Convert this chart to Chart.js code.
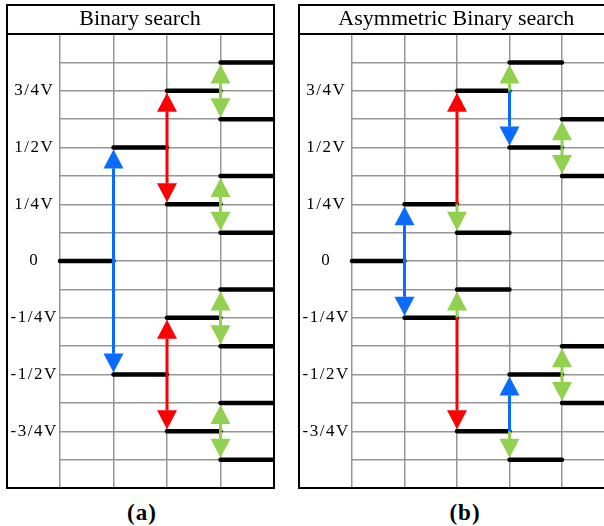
<!DOCTYPE html>
<html>
<head>
<meta charset="utf-8">
<script src="https://cdn.jsdelivr.net/npm/chart.js@4/dist/chart.umd.min.js"></script>
<style>
  html, body { margin: 0; padding: 0; background: #fff; overflow: hidden; width: 604px; height: 526px; }
  canvas { position: absolute; }
  #chartA { left: 6px; top: 4px; }
  #chartB { left: 298px; top: 4px; }
  .caption {
    position: absolute; top: 499px; width: 80px; text-align: center; letter-spacing: 1px;
    font: bold 23px "Liberation Serif", "Times New Roman", serif; color: #000; line-height: 28px;
  }
</style>
</head>
<body>
<canvas id="chartA" width="269" height="485"></canvas>
<canvas id="chartB" width="318" height="485"></canvas>
<div class="caption" style="left:102px">(a)</div>
<div class="caption" style="left:425px">(b)</div>
<script>
// Reference voltage labels on the vertical axis
const tickValues = [0.75, 0.5, 0.25, 0, -0.25, -0.5, -0.75];
const tickLabels = ['3/4V', '1/2V', '1/4V', '0', '-1/4V', '-1/2V', '-3/4V'];

const BLUE = '#0a6cff';
const RED = '#ff0000';
const GREEN = '#92d050';

// (a) plain binary search: DAC levels held during each conversion step
const binaryStep0 = [0];
const binaryStep1 = [0.5, -0.5];
const binaryStep2 = [0.75, 0.25, -0.25, -0.75];
const binaryStep3 = [0.875, 0.625, 0.375, 0.125, -0.125, -0.375, -0.625, -0.875];

// transitions between steps: [step boundary, from level, to level, colour]
const binaryMoves = [
  [1, 0, 0.5, BLUE], [1, 0, -0.5, BLUE],
  [2, 0.5, 0.75, RED], [2, 0.5, 0.25, RED], [2, -0.5, -0.25, RED], [2, -0.5, -0.75, RED],
  [3, 0.75, 0.875, GREEN], [3, 0.75, 0.625, GREEN], [3, 0.25, 0.375, GREEN], [3, 0.25, 0.125, GREEN],
  [3, -0.25, -0.125, GREEN], [3, -0.25, -0.375, GREEN], [3, -0.75, -0.625, GREEN], [3, -0.75, -0.875, GREEN]
];

// (b) asymmetric binary search
const asymStep0 = [0];
const asymStep1 = [0.25, -0.25];
const asymStep2 = [0.75, 0.125, -0.125, -0.75];
const asymStep3 = [0.875, 0.5, -0.5, -0.875];
const asymStep4 = [0.625, 0.375, -0.375, -0.625];

const asymMoves = [
  [1, 0, 0.25, BLUE], [1, 0, -0.25, BLUE],
  [2, 0.25, 0.75, RED], [2, 0.25, 0.125, GREEN], [2, -0.25, -0.125, GREEN], [2, -0.25, -0.75, RED],
  [3, 0.75, 0.875, GREEN], [3, 0.75, 0.5, BLUE], [3, -0.75, -0.5, BLUE], [3, -0.75, -0.875, GREEN],
  [4, 0.5, 0.625, GREEN], [4, 0.5, 0.375, GREEN], [4, -0.5, -0.375, GREEN], [4, -0.5, -0.625, GREEN]
];

const SERIF = '"Liberation Serif", "Times New Roman", serif';
const GRID = '#969696';

// Arrows between consecutive levels, placed through the chart scales
const arrowPlugin = {
  id: 'levelArrows',
  afterDatasetsDraw(chart, args, opts) {
    const {ctx, scales: {x, y}} = chart;
    ctx.save();
    for (const [step, from, to, color] of opts.moves) {
      const px = x.getPixelForValue(step);
      const y0 = y.getPixelForValue(from);
      const y1 = y.getPixelForValue(to);
      const dir = Math.sign(y1 - y0);
      const tip = y1 - dir * 2;
      const base = tip - dir * 19;
      ctx.strokeStyle = color;
      ctx.fillStyle = color;
      ctx.lineWidth = 3;
      ctx.lineCap = 'butt';
      ctx.beginPath();
      ctx.moveTo(px, y0);
      ctx.lineTo(px, base);
      ctx.stroke();
      ctx.beginPath();
      ctx.moveTo(px, tip);
      ctx.lineTo(px - 10, base);
      ctx.lineTo(px + 10, base);
      ctx.closePath();
      ctx.fill();
    }
    ctx.restore();
    // tick labels (drawn in a later layer) are set slightly wider
    ctx.letterSpacing = '1.5px';
  },
  afterDraw(chart) {
    const {ctx, chartArea} = chart;
    ctx.letterSpacing = '0px';
    ctx.save();
    ctx.strokeStyle = '#000';
    ctx.lineWidth = 2;
    ctx.beginPath();
    ctx.rect(1, 1, chartArea.right - 1, chartArea.bottom - 1);
    ctx.moveTo(1, chartArea.top);
    ctx.lineTo(chartArea.right, chartArea.top);
    ctx.stroke();
    ctx.restore();
  }
};

function levelDatasets(steps) {
  const sets = [];
  steps.forEach((levels, i) => {
    levels.forEach(v => {
      sets.push({
        data: [{x: i, y: v}, {x: i + 1, y: v}],
        borderColor: '#000',
        borderWidth: 4.5,
        borderCapStyle: 'round',
        pointRadius: 0,
        clip: 4
      });
    });
  });
  return sets;
}

function makeChart(id, title, steps, moves, padRight) {
  return new Chart(document.getElementById(id), {
    type: 'line',
    data: {datasets: levelDatasets(steps)},
    plugins: [arrowPlugin],
    options: {
      responsive: false,
      animation: false,
      devicePixelRatio: 1,
      layout: {padding: {top: 0, right: padRight, bottom: 1, left: 0}},
      plugins: {
        legend: {display: false},
        tooltip: {enabled: false},
        title: {
          display: true,
          text: title,
          color: '#000',
          font: {family: SERIF, size: 22, weight: 'normal', lineHeight: 1.2},
          padding: {top: 2, bottom: 1.6}
        },
        levelArrows: {moves}
      },
      scales: {
        x: {
          type: 'linear',
          min: 0,
          max: steps.length,
          ticks: {display: false, stepSize: 1},
          grid: {color: GRID, lineWidth: 1.5, drawTicks: false},
          border: {display: false},
          afterFit(scale) {
            scale.height = 0;
            scale.paddingLeft = scale.paddingRight = 0;
            scale.paddingTop = scale.paddingBottom = 0;
          }
        },
        y: {
          type: 'linear',
          min: -1,
          max: 1,
          afterFit(scale) {
            scale.width = 54;
            scale.paddingTop = scale.paddingBottom = 0;
            scale.paddingLeft = scale.paddingRight = 0;
          },
          ticks: {
            stepSize: 0.125,
            autoSkip: false,
            padding: 6,
            crossAlign: 'center',
            color: '#000',
            z: 1,
            font: {family: SERIF, size: 17},
            callback(value) {
              const k = tickValues.findIndex(t => Math.abs(t - value) < 1e-6);
              return k >= 0 ? tickLabels[k] : '';
            }
          },
          grid: {color: GRID, lineWidth: 1.5, drawTicks: false},
          border: {display: false}
        }
      }
    }
  });
}

makeChart('chartA', 'Binary search',
  [binaryStep0, binaryStep1, binaryStep2, binaryStep3], binaryMoves, 1);
makeChart('chartB', 'Asymmetric Binary search',
  [asymStep0, asymStep1, asymStep2, asymStep3, asymStep4], asymMoves, 1.5);
</script>
</body>
</html>
